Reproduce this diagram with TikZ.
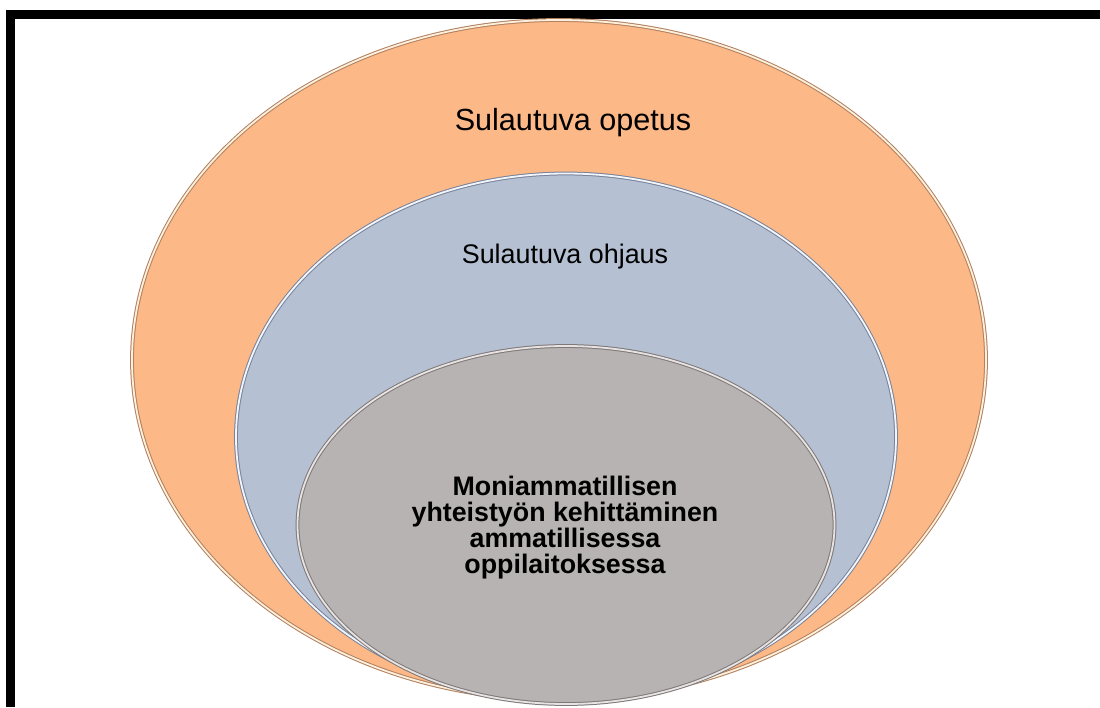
\documentclass[tikz,border=0pt]{standalone}
\usepackage{fontspec}
\setmainfont{Liberation Sans}
\usepackage{xcolor}
\usepackage{tikz}
\usetikzlibrary{shapes.geometric,positioning}
\definecolor{OrangeFill}{HTML}{FCB886}
\definecolor{OrangeEdge}{HTML}{B08060}
\definecolor{OrangeLite}{HTML}{FFF0DC}
\definecolor{BlueFill}{HTML}{B5C0D2}
\definecolor{BlueEdge}{HTML}{78839A}
\definecolor{BlueLite}{HTML}{F2F6FC}
\definecolor{GreyFill}{HTML}{B7B3B2}
\definecolor{GreyEdge}{HTML}{7E7978}
\definecolor{GreyLite}{HTML}{E6E3E2}
\tikzset{
  RG/.style={ellipse,inner sep=0pt,line width=1pt,
             double distance=1.8pt},
  rO/.style={RG,fill=OrangeFill,draw=OrangeEdge,double=OrangeLite},
  rB/.style={RG,fill=BlueFill,draw=BlueEdge,double=BlueLite},
  rG/.style={RG,fill=GreyFill,draw=GreyEdge,double=GreyLite},
  TL/.style={text=black},
  TB/.style={font=\fontsize{26.8}{26}\selectfont\bfseries,text=black,align=center}
}
\begin{document}
\begin{tikzpicture}[x=1pt,y=-1pt]
  \useasboundingbox (0,0) rectangle (1100,707);
  \fill[white] (0,0) rectangle (1100,707);
  % frame
  \draw[gray,line width=1pt] (6,10) -- (1100,10);
  \draw[black,line width=9pt,miter limit=4] (10,707) -- (10,14.5) -- (1100,14.5);
  % rings
  \node[rO,minimum width=854pt,minimum height=680pt] (opetus) at (559,360) {};
  \node[rB,minimum width=660pt,minimum height=527pt] (ohjaus) at (566,437) {};
  \node[rG,minimum width=537pt,minimum height=358pt] (core) at (566,525) {};
  \node[TL,font=\fontsize{30.6}{36}\selectfont] (opetusL) at (573,123) {Sulautuva opetus};
  \node[TL,font=\fontsize{26.9}{32}\selectfont] (ohjausL) at (565,257) {Sulautuva ohjaus};
  \node[TB] (coreL) at (565,528) {Moniammatillisen\\yhteistyön kehittäminen\\ammatillisessa\\oppilaitoksessa};
\end{tikzpicture}
\end{document}
